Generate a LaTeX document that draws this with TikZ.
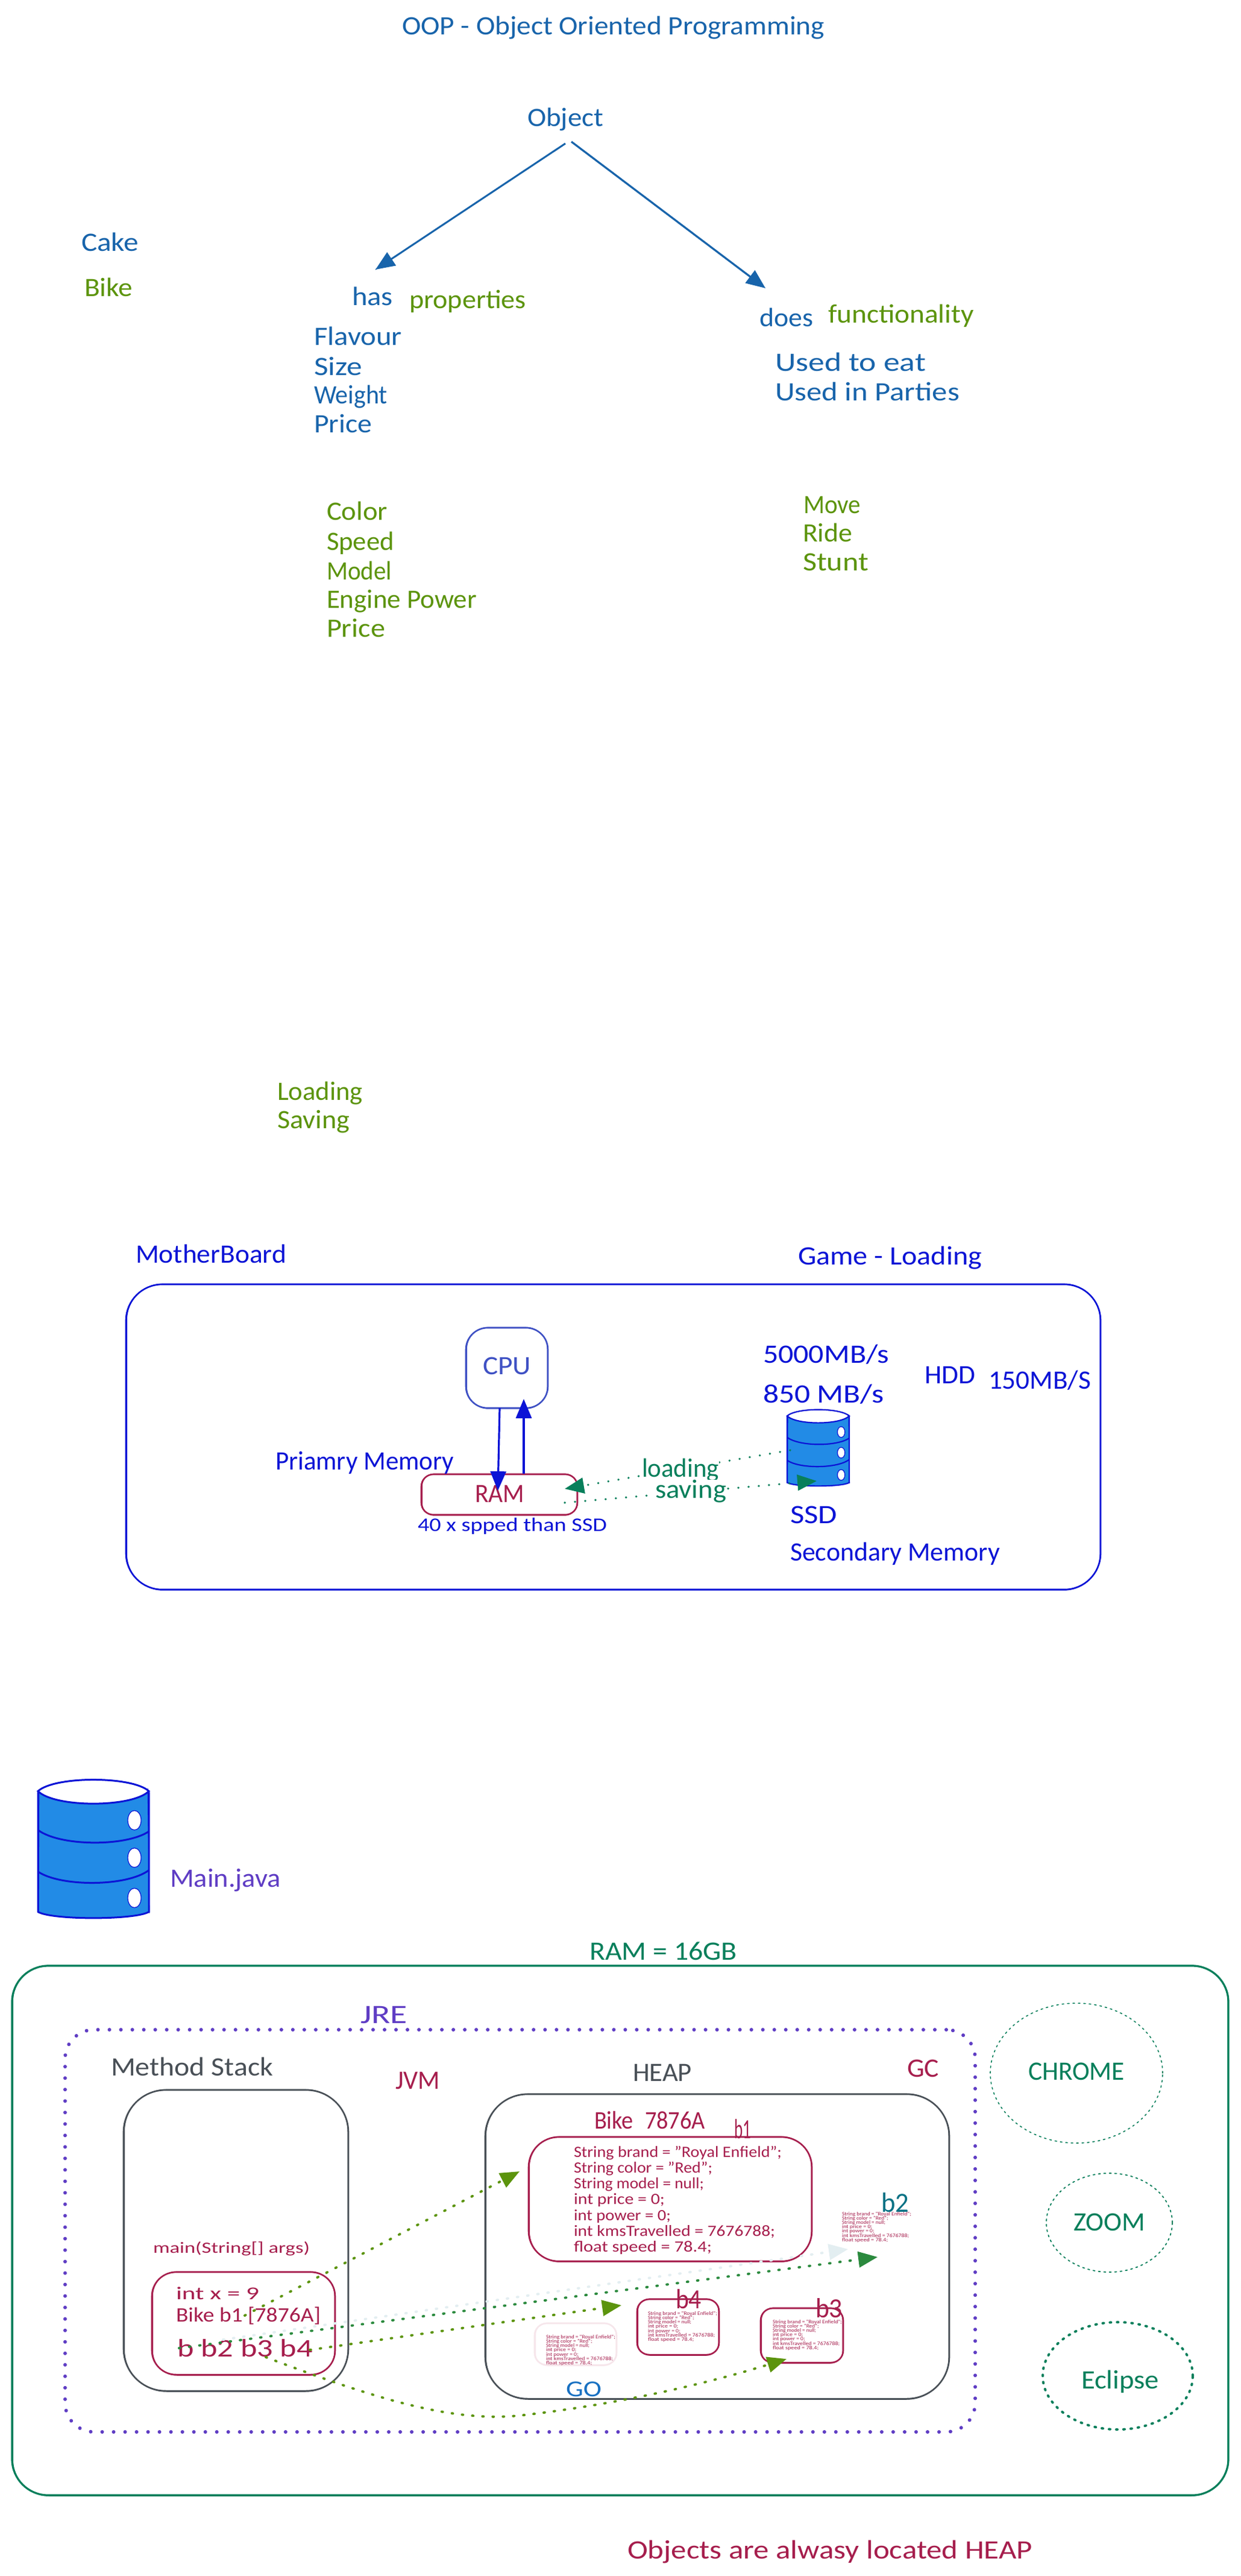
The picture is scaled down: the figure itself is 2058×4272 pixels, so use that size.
\documentclass[tikz,border=0pt]{standalone}
\usepackage{fontspec}
\usepackage{graphicx}
\setmainfont{Carlito}
\usetikzlibrary{arrows.meta,shapes.geometric}
\definecolor{cblue}{HTML}{1864AB}
\definecolor{cgreen}{HTML}{5C940D}
\definecolor{mb}{HTML}{0C14D6}
\definecolor{cpuc}{HTML}{3F51C4}
\definecolor{crim}{HTML}{A61E4D}
\definecolor{teal}{HTML}{087F5B}
\definecolor{gry}{HTML}{495057}
\definecolor{vio}{HTML}{5F3DC4}
\definecolor{cyn}{HTML}{0B7285}
\definecolor{goc}{HTML}{1971C2}
\definecolor{dgreen}{HTML}{2B8A3E}
\definecolor{ghost}{HTML}{E3EEF1}
\definecolor{ghostp}{HTML}{F6E6EB}
\definecolor{dbfill}{HTML}{228BE6}
\tikzset{
  lbl/.style={anchor=base west,inner sep=0pt,outer sep=0pt},
  sk/.style={line width=1.3pt},
  head/.style={-{Triangle[length=16pt,width=13pt]}},
  dotgreen/.style={line width=2pt,line cap=round,dash pattern=on 0.9pt off 7.6pt},
  dotteal/.style={color=teal,line width=1.8pt,line cap=round,dash pattern=on 0.1pt off 8.4pt},
  dotvio/.style={color=vio,line width=3pt,line cap=round,dash pattern=on 0.01pt off 9.5pt},
}
% name, x, baseline y, width (px), colour, size (pt), text, extra
\newcommand\lb[8][]{\node[lbl,text=#6,#1] (#2) at (#3,#4) {\fontsize{#7}{#7}\selectfont\resizebox{\dimexpr #5pt/2\relax}{\height}{#8}};}
% name, x1,y1,x2,y2, radius pt, style
\newcommand\bx[7]{%
  \node[draw,#7,rounded corners=#6pt,inner sep=0pt,outer sep=0pt,minimum width={(#4-#2)*0.5pt},minimum height={(#5-#3)*0.5pt}] (#1) at ({(#2+#4)/2},{(#3+#5)/2}) {};
  \draw[#7,rounded corners=#6pt,line width=0.5pt] (#2+1.5,#3-1) rectangle (#4-1,#5+1.2);}
% name, x, first baseline, dy, scale
\newcommand\code[5]{%
  \foreach \i/\w/\t in {0/345/{String brand = "Royal Enfield";},1/230/{String color = "Red";},2/216/{String model = null;},3/151/{int price = 0;},4/161/{int power = 0;},5/334/{int kmsTravelled = 7676788;},6/229/{float speed = 78.4;}}{
    \pgfmathsetmacro\yy{#3+\i*#4}\pgfmathsetmacro\ww{\w*#5}\pgfmathsetmacro\fs{13*#5}
    \lb{#1\i}{#2}{\yy}{\ww}{crim}{\fs}{\t}
  }}
% x1,y1,x2,y2, line width
\newcommand\dbicon[5]{%
  \pgfmathsetmacro\sx{(#3-#1)/100}\pgfmathsetmacro\sy{(#4-#2)/100}
  \begin{scope}[shift={(#1,#2)},xscale=\sx,yscale=\sy,draw=mb,line width=#5]
    \draw[fill=dbfill] (0,9) -- (0,95) .. controls (12,101) and (88,101) .. (100,95) -- (100,9) .. controls (88,-3) and (12,-3) .. (0,9) -- cycle;
    \draw[line width=0.5pt] (1,7) -- (0.6,96) (99,6) -- (100.5,96);
    \draw[fill=white] (0,8) .. controls (15,-3) and (85,-3) .. (100,8) .. controls (85,20) and (15,20) .. (0,8) -- cycle;
    \draw (0,36) .. controls (20,48) and (80,48) .. (100,37);
    \draw (0,66) .. controls (20,77) and (80,77) .. (100,65);
    \foreach \hy in {29,56,85}{\draw[fill=white,line width=0.6pt] (87,\hy) ellipse (6 and 7);}
  \end{scope}}
\begin{document}
\begin{tikzpicture}[x=0.5pt,y=-0.5pt]
\useasboundingbox (0,0) rectangle (2058,4272);
\fill[white] (0,0) rectangle (2058,4272);

% --- OOP section
\lb{title}{667}{57}{701}{cblue}{22}{OOP - Object Oriented Programming}
\lb{obj}{875}{209}{126}{cblue}{22}{Object}
\lb{cake}{135}{416}{95}{cblue}{22}{Cake}
\lb{bike}{140}{491}{80}{cgreen}{22}{Bike}
\lb{has}{584}{506}{68}{cblue}{22}{has}
\lb{props}{679}{511}{194}{cgreen}{22}{properties}
\lb{flav}{521}{572}{146}{cblue}{22}{Flavour}
\lb{size}{521}{622}{80}{cblue}{22}{Size}
\lb{wgt}{521}{669}{122}{cblue}{22}{Weight}
\lb{prc}{521}{717}{96}{cblue}{22}{Price}
\lb{does}{1260}{541}{89}{cblue}{22}{does}
\lb{func}{1374}{535}{242}{cgreen}{22}{functionality}
\lb{eat}{1286}{615}{250}{cblue}{22}{Used to eat}
\lb{part}{1286}{664}{306}{cblue}{22}{Used in Parties}
\lb{col}{542}{862}{101}{cgreen}{22}{Color}
\lb{spd}{542}{912}{112}{cgreen}{22}{Speed}
\lb{mod}{542}{961}{108}{cgreen}{22}{Model}
\lb{eng}{542}{1008}{249}{cgreen}{22}{Engine Power}
\lb{prc2}{542}{1056}{97}{cgreen}{22}{Price}
\lb{move}{1333}{851}{95}{cgreen}{22}{Move}
\lb{ride}{1332}{898}{82}{cgreen}{22}{Ride}
\lb{stunt}{1332}{946}{109}{cgreen}{22}{Stunt}
\coordinate (objA) at (938,238);
\coordinate (objA2) at (934,241);
\coordinate (objB) at (948,235);
\coordinate (hasTip) at (623,447);
\coordinate (doesTip) at (1270,478);
\draw[cblue,line width=1.5pt,head] (objA) -- (hasTip);
\draw[cblue,line width=0.7pt] (objA2) -- (hasTip);
\draw[cblue,line width=1.6pt,head] (objB) -- (doesTip);

\lb{load}{460}{1824}{142}{cgreen}{22}{Loading}
\lb{sav}{460}{1871}{120}{cgreen}{22}{Saving}

% --- MotherBoard section
\lb{mbt}{225}{2094}{250}{mb}{22}{MotherBoard}
\lb{game}{1324}{2097}{305}{mb}{22}{Game - Loading}
\bx{board}{209}{2130}{1826}{2636}{30}{mb,sk}
\bx{cpu}{773}{2202}{909}{2335}{18}{cpuc,sk}
\lb{cput}{801}{2279}{80}{cpuc}{22}{CPU}
\bx{ram}{699}{2445}{958}{2512}{10}{crim,sk}
\lb{ramt}{788}{2491}{82}{crim}{22}{RAM}
\lb{prim}{457}{2437}{296}{mb}{22}{Priamry Memory}
\lb{speed}{693}{2539}{314}{mb}{16}{40 x spped than SSD}
\lb{s5000}{1266}{2260}{209}{mb}{22}{5000MB/s}
\lb{s850}{1266}{2326}{201}{mb}{22}{850 MB/s}
\lb{hdd}{1534}{2294}{84}{mb}{22}{HDD}
\lb{s150}{1640}{2303}{170}{mb}{22}{150MB/S}
\dbicon{1306}{2338}{1409}{2465}{1.1pt}
\lb{ssd}{1311}{2526}{78}{mb}{22}{SSD}
\lb{sec}{1311}{2588}{348}{mb}{22}{Secondary Memory}
\coordinate (cpuD) at (829,2335);
\coordinate (ramTip) at (826,2472);
\coordinate (ramU) at (869,2444);
\coordinate (cpuTip) at (869,2320);
\draw[mb,line width=1.6pt,head] (cpuD) -- (ramTip);
\draw[mb,line width=1.6pt,head] (ramU) -- (cpuTip);
\coordinate (ssdL) at (1311,2405);
\coordinate (ramL) at (937,2469);
\coordinate (ramS) at (937,2492);
\coordinate (ssdS) at (1355,2456);
\draw[dotteal,head] (ssdL) -- (ramL);
\draw[dotteal,head] (ramS) -- (ssdS);
\lb[fill=white]{loadt}{1065}{2449}{128}{teal}{22}{loading}
\lb[fill=white]{savt}{1087}{2484}{118}{teal}{22}{saving}

% --- Main.java
\dbicon{63}{2952}{247}{3182}{1.5pt}
\lb{mainj}{282}{3129}{184}{vio}{22}{Main.java}

% --- RAM
\lb{ram16}{978}{3250}{245}{teal}{22}{RAM = 16GB}
\bx{rambox}{20}{3260}{2038}{4138}{30}{teal,line width=1.6pt}
\lb{jre}{598}{3355}{78}{vio}{22}{JRE}
\node[draw,dotvio,rounded corners=24pt,inner sep=0pt,minimum width=755pt,minimum height=333.5pt] (jrebox) at (863,3699.5) {};
\lb{mstack}{184}{3442}{269}{gry}{22}{Method Stack}
\bx{stack}{205}{3466}{578}{3965}{35}{gry,sk}
\lb{jvm}{656}{3464}{74}{crim}{22}{JVM}
\lb{heap}{1050}{3451}{98}{gry}{22}{HEAP}
\lb{gc}{1505}{3444}{53}{crim}{22}{GC}
\bx{heapbox}{805}{3473}{1575}{3978}{35}{gry,sk}
\lb{biket}{986}{3530}{184}{crim}{21}{Bike\hspace{0.5em}7876A}
\bx{b1box}{877}{3544}{1347}{3750}{25}{crim,sk}
\lb{b1t}{1218}{3546}{28}{crim}{23}{b1}
\code{cA}{952}{3577}{26.3}{1}
\lb{b2t}{1462}{3668}{46}{cyn}{23}{b2}
\code{cB}{1397}{3674}{7.2}{0.333}
\bx{ghostbox}{887}{3853}{1023}{3922}{10}{ghostp,sk}
\code{cG}{906}{3878}{7.3}{0.333}
\bx{b4box}{1057}{3813}{1193}{3905}{10}{crim,sk}
\lb{b4t}{1121}{3828}{43}{crim}{23}{b4}
\code{cD}{1075}{3839}{7.3}{0.333}
\bx{b3box}{1262}{3828}{1399}{3918}{10}{crim,sk}
\lb{b3t}{1353}{3843}{45}{crim}{23}{b3}
\code{cC}{1282}{3853}{7.2}{0.333}
\lb{got}{939}{3974}{59}{goc}{19}{GO}
\lb{maint}{254}{3736}{260}{crim}{13}{main(String[] args)}
\bx{frame}{252}{3768}{556}{3938}{20}{crim,sk}
\lb{intx}{292}{3813}{138}{crim}{15}{int x = 9}
\lb{bikeb}{292}{3850}{240}{crim}{17}{Bike b1 [7876A]}
\lb{bs}{294}{3908}{225}{crim}{21}{b b2 b3 b4}

\node[draw,ellipse,teal,line width=0.8pt,dash pattern=on 1.5pt off 3pt,line cap=round,inner sep=0pt,minimum width=143pt,minimum height=116pt] (chrome) at (1786,3438) {};
\lb{chromet}{1706}{3449}{160}{teal}{22}{CHROME}
\node[draw,ellipse,teal,line width=0.9pt,dash pattern=on 1.5pt off 3pt,line cap=round,inner sep=0pt,minimum width=104.5pt,minimum height=82pt] (zoomc) at (1840.5,3686) {};
\lb{zoomt}{1781}{3699}{119}{teal}{22}{ZOOM}
\node[draw,ellipse,teal,line width=2pt,dash pattern=on 1pt off 5pt,line cap=round,inner sep=0pt,minimum width=124.5pt,minimum height=89pt] (eclc) at (1854.5,3940) {};
\lb{eclt}{1794}{3961}{129}{teal}{22}{Eclipse}
\lb{objs}{1041}{4243}{672}{crim}{22}{Objects are alwasy located HEAP}

% heap connectors
\coordinate (refB) at (406,3840);
\coordinate (tipB1) at (862,3601);
\coordinate (refG) at (370,3880);
\coordinate (tipG) at (1407,3730);
\coordinate (refD) at (297,3894);
\coordinate (tipD) at (1456,3743);
\coordinate (refF) at (514,3897);
\coordinate (tipF) at (1031,3823);
\coordinate (refC) at (441,3909);
\coordinate (tipC) at (1305,3912);
\draw[ghost,dotgreen,head] (refG) -- (tipG);
\draw[dgreen,dotgreen,head] (refD) -- (tipD);
\draw[cgreen,dotgreen,head] (refB) -- (tipB1);
\draw[cgreen,dotgreen,head] (refF) -- (tipF);
\draw[cgreen,dotgreen,head] (refC) .. controls (640,3985) and (760,4018) .. (870,4005) .. controls (1000,3990) and (1150,3960) .. (tipC);
\end{tikzpicture}
\end{document}
